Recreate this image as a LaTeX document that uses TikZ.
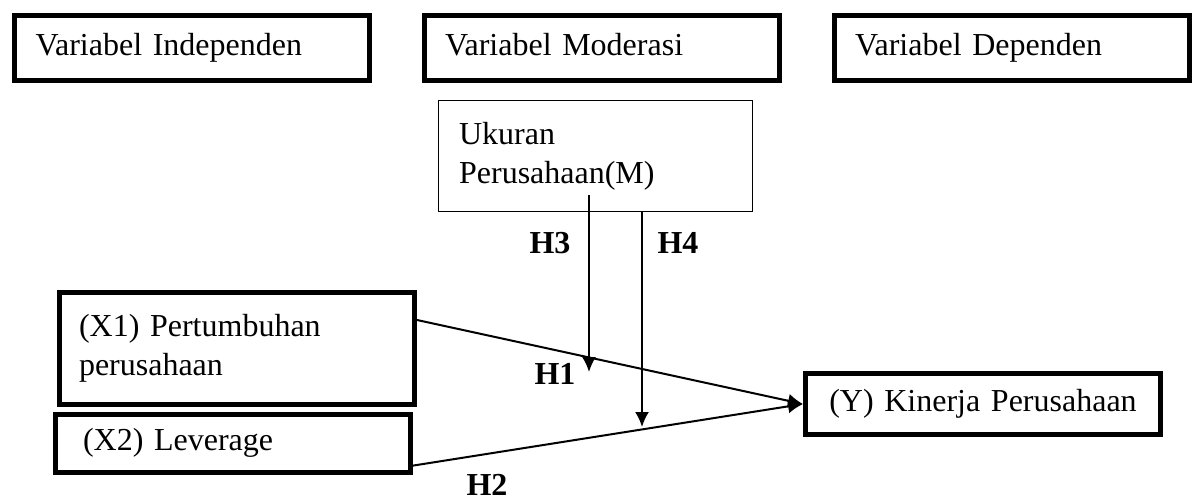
\documentclass[tikz,border=0pt]{standalone}
\usepackage{fontspec}
\setmainfont{Liberation Serif}
\usetikzlibrary{arrows.meta}
\begin{document}
\begin{tikzpicture}[x=0.5pt,y=0.5pt,
  font=\fontsize{16}{19.5}\selectfont,
  varbox/.style={draw=black, line width=2.5pt, align=left, inner xsep=10.5pt, text width=156.5pt},
  oneline/.style={text height=11pt, text depth=4pt},
  modbox/.style={draw=black, line width=0.75pt, align=left, inner xsep=10.3pt, text width=136.4pt, minimum height=55.5pt},
  link/.style={line width=1pt, -{Latex[length=7.5pt,width=7pt]}},
  hlabel/.style={font=\fontsize{16}{19.5}\selectfont\bfseries, inner sep=0pt}]
\useasboundingbox (0,0) rectangle (1192,-503);
\node [varbox, oneline, minimum height=32.5pt] (indep) at (192,-48) {Variabel Independen};
\node [varbox, oneline, minimum height=32.5pt] (moder) at (601.5,-48) {Variabel Moderasi};
\node [varbox, oneline, minimum height=32.5pt] (depen) at (1011.5,-48) {Variabel Dependen};
\node [modbox] (ukuran) at (595.5,-156) {Ukuran\\Perusahaan(M)};
\node [varbox, minimum height=56pt, inner xsep=9.75pt, text width=158pt] (x1) at (237,-348.5) {(X1) Pertumbuhan\\perusahaan};
\node [varbox, oneline, minimum height=29pt, inner xsep=13.75pt, text width=150pt] (x2) at (233,-443.5) {(X2) Leverage};
\node [varbox, oneline, minimum height=30.5pt, align=center] (y) at (983,-404) {(Y) Kinerja Perusahaan};
\coordinate (h3top) at (589,-195);
\coordinate (h3tip) at (589,-372);
\coordinate (h4tip) at (642,-427);
\draw [link] (x1.9.6) -- (y.west);
\draw [link] (x2.-7) -- (y.west);
\draw [link] (h3top) -- (h3tip);
\draw [link] (ukuran.south -| h4tip) -- (h4tip);
\node [hlabel] (h3) at (550,-243) {H3};
\node [hlabel] (h4) at (678,-243) {H4};
\node [hlabel] (h1) at (555,-374) {H1};
\node [hlabel] (h2) at (487,-485) {H2};
\end{tikzpicture}
\end{document}
